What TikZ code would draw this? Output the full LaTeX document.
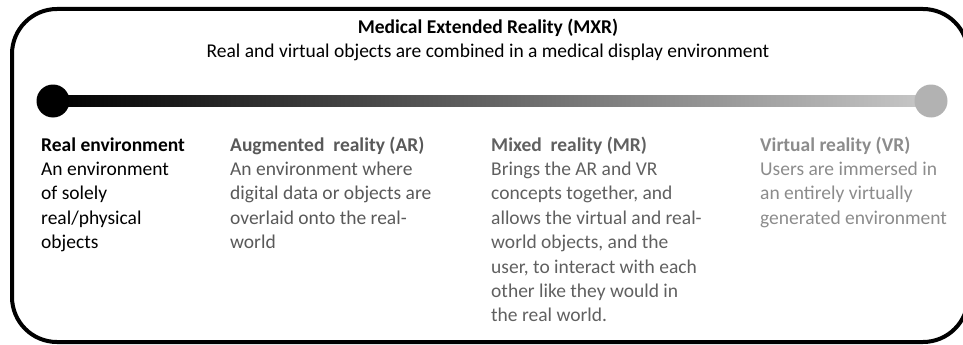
\documentclass[tikz,border=0pt]{standalone}
\usepackage{fontspec}
\setmainfont{Carlito}
\usepackage{tikz}
\definecolor{realcolor}{RGB}{0,0,0}
\definecolor{arcolor}{RGB}{89,89,89}
\definecolor{mrcolor}{RGB}{96,96,96}
\definecolor{vrcolor}{RGB}{140,140,140}
\definecolor{dotgray}{RGB}{178,178,178}
\definecolor{barend}{RGB}{200,200,200}

\begin{document}
\begin{tikzpicture}[x=1pt, y=-1pt,
    bodyfont/.style={font=\fontsize{19.5}{24.4}\selectfont},
    boldfont/.style={font=\fontsize{19.5}{24.4}\selectfont\bfseries},
    coltext/.style={bodyfont, anchor=base west, inner sep=0pt, align=left},
    dot/.style={circle, inner sep=0pt, minimum size=33pt}]
    % Frame
    \useasboundingbox (0,0) rectangle (963,345);
    \clip (0,0) rectangle (963,345);
    \draw[line width=4pt, rounded corners=45pt] (12,9) rectangle (968,342);

    % Heading
    \node[boldfont, anchor=base] (title) at (488,34)
        {Medical Extended Reality (MXR)};
    \node[bodyfont, anchor=base] (subtitle) at (488,57)
        {Real and virtual objects are combined in a medical display environment};

    % Continuum bar, real -> virtual
    \coordinate (realend) at (53,101);
    \coordinate (virtend) at (931,101);
    \shade[left color=black, right color=barend]
        ([yshift=-5.5pt]realend) rectangle ([yshift=5.5pt]virtend);
    \node[dot, fill=black] (realdot) at (realend) {};
    \node[dot, fill=dotgray] (virtdot) at (virtend) {};

    % Columns (base = last line, 24.4pt per line)
    \node[coltext, text=realcolor] (realcol) at (41,248.6)
        {\textbf{Real environment}\\An environment\\of solely\\real/physical\\objects};
    \node[coltext, text=arcolor] (arcol) at (230,248.6)
        {\textbf{Augmented\ \ reality (AR)}\\An environment where\\digital data or objects are\\overlaid onto the real-\\world};
    \node[coltext, text=mrcolor] (mrcol) at (491,321.8)
        {\textbf{Mixed\ \ reality (MR)}\\Brings the AR and VR\\concepts together, and\\allows the virtual and real-\\world objects, and the\\user, to interact with each\\other like they would in\\the real world.};
    \node[coltext, text=vrcolor] (vrcol) at (760,224.2)
        {\textbf{Virtual reality (VR)}\\Users are immersed in\\an entirely virtually\\generated environment};
\end{tikzpicture}
\end{document}
